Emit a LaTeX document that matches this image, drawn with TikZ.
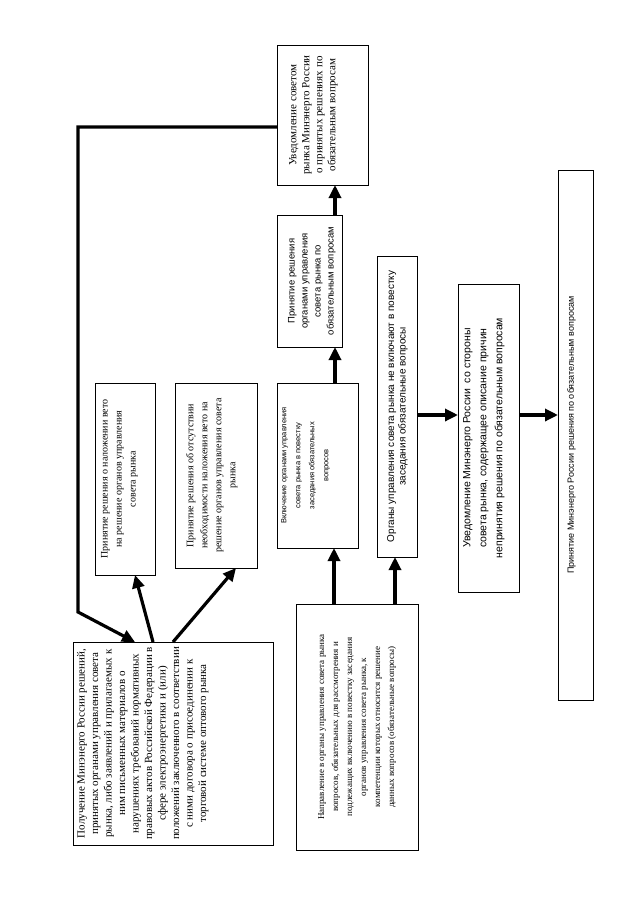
\documentclass[tikz,border=0pt]{standalone}
\usepackage{fontspec}
\setmainfont{Liberation Serif}
\newfontfamily\sansf{Liberation Sans}
\usetikzlibrary{arrows.meta}
\begin{document}
\begin{tikzpicture}[x=1pt,y=-1pt,
  box/.style={draw, line width=0.9pt, anchor=north west, inner sep=0pt, outer sep=0pt},
  txt/.style={rotate=90, anchor=north, inner sep=0pt, align=center},
  conn/.style={line width=3.2pt, -{Triangle[length=13pt,width=12pt]}}]
\useasboundingbox (0,0) rectangle (640,905);
\fill[white] (0,0) rectangle (640,905);

% boxes
\node[box, minimum width=200pt, minimum height=203pt] (b1) at (73,642) {};
\node[box, minimum width=60pt, minimum height=192pt] (b2) at (95,383) {};
\node[box, minimum width=82pt, minimum height=185pt] (b3) at (175,383) {};
\node[box, minimum width=81pt, minimum height=165pt] (b4) at (277,383) {};
\node[box, minimum width=40pt, minimum height=301pt] (b5) at (377,256) {};
\node[box, minimum width=122pt, minimum height=246pt] (b6) at (296,604) {};
\node[box, minimum width=65pt, minimum height=132pt] (b7) at (277,215) {};
\node[box, minimum width=91pt, minimum height=140pt] (b8) at (277,45) {};
\node[box, minimum width=61pt, minimum height=308pt] (b9) at (458,284) {};
\node[box, minimum width=35pt, minimum height=530pt] (b10) at (558,170) {};

% texts
\node[txt, font=\fontsize{11}{13.5}\selectfont] (t1) at ([xshift=4pt]b1.west)
 {Получение Минэнерго России решений,\\принятых органами управления совета\\рынка, либо заявлений и прилагаемых к\\ним письменных материалов о\\нарушениях требований нормативных\\правовых актов Российской Федерации в\\сфере электроэнергетики и (или)\\положений заключенного в соответствии\\с ними договора о присоединении к\\торговой системе оптового рынка};
\node[txt, font=\fontsize{10}{14}\selectfont] (t2) at ([xshift=6pt]b2.west)
 {Принятие решения о наложении вето\\на решение органов управления\\совета рынка};
\node[txt, font=\fontsize{10}{14}\selectfont] (t3) at ([xshift=11pt]b3.west)
 {Принятие решения об отсутствии\\необходимости наложения вето на\\решение органов управления совета\\рынка};
\node[txt, font=\sansf\fontsize{7.5}{14}\selectfont] (t4) at ([xshift=4pt]b4.west)
 {Включение органами управления\\совета рынка в повестку\\заседания обязательных\\вопросов};
\node[txt, font=\sansf\fontsize{10}{11.5}\selectfont] (t5) at ([xshift=10pt]b5.west)
 {Органы управления совета рынка не включают в повестку\\заседания обязательные вопросы};
\node[txt, font=\fontsize{9}{14}\selectfont] (t6) at ([xshift=22pt]b6.west)
 {Направление в органы управления совета рынка\\вопросов, обязательных для рассмотрения и\\подлежащих включению в повестку заседания\\органов управления совета рынка, к\\компетенции которых относится решение\\данных вопросов (обязательные вопросы)};
\node[txt, font=\sansf\fontsize{9.5}{13}\selectfont] (t7) at ([xshift=11pt]b7.west)
 {Принятие решения\\органами управления\\совета рынка по\\обязательным вопросам};
\node[txt, font=\fontsize{11}{13}\selectfont] (t8) at ([xshift=12pt]b8.west)
 {Уведомление советом\\рынка Минэнерго России\\о принятых решениях по\\обязательным вопросам};
\node[txt, font=\sansf\fontsize{10.5}{16}\selectfont] (t9) at ([xshift=5pt]b9.west)
 {Уведомление Минэнерго России\ \ со стороны\\совета рынка, содержащее описание причин\\непринятия решения по обязательным вопросам};
\node[txt, font=\sansf\fontsize{9}{11}\selectfont] (t10) at ([xshift=9pt]b10.west)
 {Принятие Минэнерго России решения по обязательным вопросам};

% connectors
\draw[conn] ([yshift=-12pt]b8.west) -- (78,127) -- (78,612) -- ([xshift=-38pt]b1.north);
\draw[conn] ([xshift=-20pt]b1.north) -- ([xshift=10pt]b2.south);
\draw[conn] (b1.north) -- ([xshift=20pt]b3.south);
\draw[conn] (b6.north -| 334,0) -- (b4.south -| 334,0);
\draw[conn] (b6.north -| 395,0) -- (b5.south -| 395,0);
\draw[conn] (b4.north -| 335,0) -- (b7.south -| 335,0);
\draw[conn] (b7.north -| 335,0) -- (b8.south -| 335,0);
\draw[conn] (b5.east |- 0,415) -- (b9.west |- 0,415);
\draw[conn] (b9.east |- 0,415) -- (b10.west |- 0,415);
\end{tikzpicture}
\end{document}
